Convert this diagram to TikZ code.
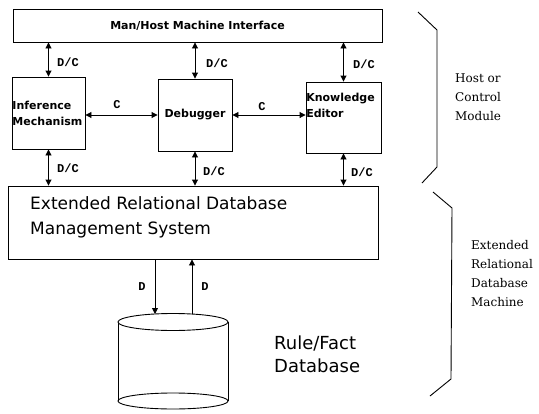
\documentclass[tikz,border=0pt]{standalone}
\usepackage{fontspec}
\newfontfamily\boxfont{DejaVu Sans}
\newfontfamily\labfont{Liberation Mono}
\newfontfamily\serfont{DejaVu Serif}
\usetikzlibrary{arrows.meta}
\begin{document}
\begin{tikzpicture}[x=1pt,y=-1pt,
  blk/.style={draw,line width=0.9pt,inner sep=0pt},
  boxtxt/.style={font=\boxfont\bfseries\fontsize{11}{16}\selectfont},
  lab/.style={font=\labfont\bfseries\fontsize{12}{12}\selectfont,inner sep=0pt},
  bigtxt/.style={font=\boxfont\fontsize{17}{25}\selectfont,inner sep=0pt,align=left},
  sidetxt/.style={font=\serfont\fontsize{12}{19}\selectfont,inner sep=0pt,align=left},
  conn/.style={line width=0.9pt,{Triangle[width=6pt,length=6pt]}-{Triangle[width=6pt,length=6pt]}},
  oneway/.style={line width=0.9pt,-{Triangle[width=6pt,length=6pt]}},
  brace/.style={line width=0.9pt}]
\useasboundingbox (0,0) rectangle (539,413);

% boxes
\node[blk,boxtxt,minimum width=369pt,minimum height=33pt] (top) at (197.5,25.5) {Man/Host Machine Interface};
\node[blk,boxtxt,minimum width=73pt,minimum height=72pt,text width=72pt,align=left] (inf) at (48.5,113) {Inference\\Mechanism};
\node[blk,boxtxt,minimum width=74pt,minimum height=72pt] (dbg) at (195,115) {Debugger};
\node[blk,minimum width=75pt,minimum height=71pt] (ke) at (343.5,117.5) {};
\node[boxtxt,anchor=north west,inner sep=0pt,align=left] (ketxt) at ([xshift=0.5pt,yshift=-11pt]ke.north west) {Knowledge\\Editor};
\node[blk,minimum width=370pt,minimum height=73pt] (erd) at (193,222.5) {};
\node[bigtxt,anchor=west] (erdtxt) at (30,217.5) {Extended Relational Database\\Management System};

% vertical D/C connectors
\draw[conn] (top.south -| inf.north) -- (inf.north);
\draw[conn] (top.south -| dbg.north) -- (dbg.north);
\draw[conn] (top.south -| ke.north) -- (ke.north);
\draw[conn] (inf.south) -- (inf.south |- erd.north);
\draw[conn] (dbg.south) -- (dbg.south |- erd.north);
\draw[conn] (ke.south) -- (ke.south |- erd.north);

% horizontal C connectors
\draw[conn] (dbg.west -| inf.east) -- (dbg.west);
\draw[conn] (dbg.east) -- (dbg.east -| ke.west);

% labels
\node[lab] (l1) at (68,62) {D/C};
\node[lab] (l2) at (217,63) {D/C};
\node[lab] (l3) at (364,64) {D/C};
\node[lab] (l4) at (68,168) {D/C};
\node[lab] (l5) at (214,171) {D/C};
\node[lab] (l6) at (362,172) {D/C};
\node[lab] (c1) at (117,105) {C};
\node[lab] (c2) at (262,107) {C};
\node[lab] (d1) at (142,287) {D};
\node[lab] (d2) at (205,287) {D};

% cylinder
\draw[line width=0.9pt] (118,322) -- (118,401) (228,322) -- (228,401);
\draw[line width=0.9pt,fill=white] (173,322) ellipse [x radius=55pt,y radius=8.5pt];
\draw[line width=0.9pt] (173,401) ellipse [x radius=55pt,y radius=8pt];
\coordinate (dl) at (155,314);
\coordinate (dr) at (192,314);
\draw[oneway] (erd.south -| dl) -- (dl);
\draw[oneway] (dr) -- (erd.south -| dr);
\node[bigtxt,font=\boxfont\fontsize{18}{23}\selectfont,anchor=west] (dbtxt) at (274,354) {Rule/Fact\\Database};

% braces
\draw[brace] (418,12) -- (437,30) -- (437,167) -- (422,183);
\draw[brace] (433,192) -- (452,208) -- (451,379) -- (430,396);
\node[sidetxt,anchor=west] (host) at (455,97.5) {Host or\\Control\\Module};
\node[sidetxt,anchor=west] (mach) at (471,273.5) {Extended\\Relational\\Database\\Machine};
\end{tikzpicture}
\end{document}
